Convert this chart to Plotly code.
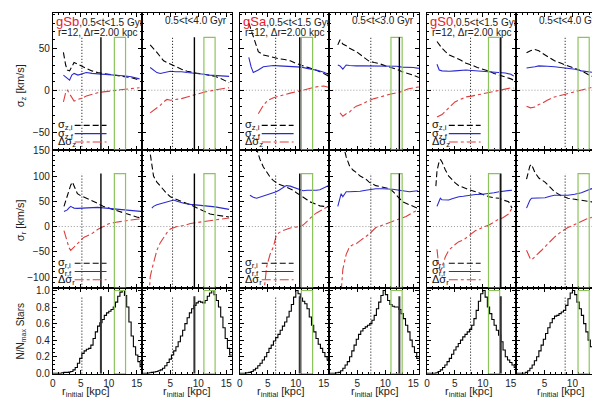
import numpy as np
import plotly.graph_objects as go

W, H = 600, 398

# ---------------- data ----------------
# row 1 : sigma_z  (r grid, initial, final, difference)
rz_sb1 = [1.9, 2.3, 2.6, 3.0, 3.4, 3.8, 4.5, 5.0, 6.0, 7.0, 8.0, 9.0, 10.0, 11.0, 12.0, 13.0, 14.0, 15.0, 15.5]
szi_sb1 = [45, 30, 24, 23, 28, 33, 31, 29, 26, 23, 21, 20, 19, 18, 17, 16, 15, 13, 11]
szf_sb1 = [18, 16, 14, 12, 18, 20, 18, 19, 21, 20, 19.5, 19, 19, 18.5, 17.5, 17, 16, 14.5, 13.5]
dsz_sb1 = [-14, -3, 0, -4, -9, -13, -11, -10, -7, -5, -3, -2, -1.5, -0.5, 0.5, 1, 2, 2.5, 3]

rz_sb2 = [1.4, 2.0, 2.6, 3.2, 3.8, 4.4, 5.0, 6.0, 7.0, 8.0, 9.0, 10.0, 11.0, 12.0, 13.0, 14.0, 15.0, 15.5]
szi_sb2 = [54, 50, 45, 40, 35, 33, 31, 28, 25, 22.5, 21, 20, 19, 18, 16.5, 14, 11, 9]
szf_sb2 = [27, 24, 21, 20, 21, 22, 22.5, 22, 22, 21, 20.5, 20, 19, 18, 17.5, 17, 17, 16.5]
dsz_sb2 = [-27, -24, -22, -18, -14, -11, -12, -11, -10, -8, -6, -4, -2.5, -1, 0.5, 1.5, 2.5, 3]

rz_sa1 = [1.6, 2.0, 2.4, 2.8, 3.3, 4.2, 5.0, 6.0, 7.0, 8.0, 9.0, 10.0, 11.0, 12.0, 13.0, 14.0, 15.0, 15.8]
szi_sa1 = [80, 72, 64, 55, 46, 42, 40.5, 39, 37.5, 36.5, 35, 32, 29.5, 27.5, 25.5, 23, 20, 17]
szf_sa1 = [39, 28, 21, 22, 24, 28, 29, 29.5, 29, 28.5, 28, 28, 27.5, 26, 25, 23.5, 21.5, 19]
dsz_sa1 = [None, None, None, None, -28, -18, -12, -9, -7, -5, -3.5, -2, -0.5, 1, 3, 4.5, 5, 3.5]

rz_sa2 = [1.5, 1.9, 2.4, 3.0, 3.6, 4.2, 4.8, 6.0, 7.0, 8.0, 9.0, 10.0, 11.0, 12.0, 13.0, 14.0, 15.0, 16.0]
szi_sa2 = [54, 60, 55, 53, 50, 48, 46, 40, 35, 33, 31.5, 29, 27, 25, 22, 20, 18, 15]
szf_sa2 = [30, 29, 25, 30, 29.5, 29, 29, 29, 29, 29, 29, 29, 29, 28.5, 27.5, 27.5, 27, 26]
dsz_sa2 = [None, -27, -31, -28, -26, -22, -19, -16, -12.5, -10, -8, -6, -4.5, -3, -1.5, 1.5, 3, 4]

rz_s01 = [1.8, 2.2, 2.7, 3.3, 4.0, 5.0, 6.0, 7.0, 8.0, 9.0, 10.0, 11.0, 12.0, 13.0, 14.0, 15.0, 15.5]
szi_s01 = [58, 54, 50, 46, 42, 39, 36, 32, 30, 27, 25, 23, 20, 18, 15.5, 13.5, 12]
szf_s01 = [31, 24, 23, 22.5, 22.5, 23, 23.5, 24, 23.5, 23, 22.5, 22.5, 22, 21, 20.5, 19, 17]
dsz_s01 = [-32, -31, -29, -25, -20, -14, -11, -8, -7, -5.5, -4, -2.5, -1, 0.5, 2, 2.7, 2.5]

rz_s02 = [1.8, 2.5, 3.3, 4.0, 4.5, 5.5, 6.8, 8.0, 9.2, 10.5, 11.6, 12.5, 13.1, 14.0, 15.2, 15.8]
szi_s02 = [44.5, 47, 48.5, 47, 44.5, 40, 35, 32, 29, 26, 23, 20, 17.5, 15.5, 12, 10]
szf_s02 = [26.5, 27, 28, 29, 29, 28.5, 28, 27, 26.5, 25, 23, 22, 22, 21, 20, 19.5]
dsz_s02 = [-19, -21, -20, -17, -16, -12, -8, -6, -4, -2, 0.5, 2, 3, 4.4, 5, 5]

# row 2 : sigma_r
rr_sb1 = [2.0, 2.6, 2.9, 3.2, 3.5, 3.8, 4.4, 5.0, 5.6, 6.2, 7.0, 8.0, 9.0, 10.0, 11.0, 12.0, 13.0, 14.0, 15.0, 15.7]
sri_sb1 = [40, 62, 75, 82, 88, 80, 65, 61, 58, 56, 52, 46, 40, 36.5, 33, 28, 25, 22, 19, 17]
srf_sb1 = [30, 33, 37, 40, 38, 36.5, 36, 36.5, 36.5, 36.5, 37.5, 38, 37, 36, 35, 34, 33, 32, 31, 30]
dsr_sb1 = [-8, -34, -42, -47, -44, -40, -34, -27, -21, -18, -14, -6, 0, 5.5, 8, 10, 11.5, 13, 14.5, 15]

rr_sb2 = [1.2, 1.4, 1.7, 2.0, 2.6, 3.2, 3.8, 4.4, 5.0, 5.6, 6.2, 7.4, 8.6, 9.8, 11.0, 12.1, 13.0, 14.0, 15.0, 15.5]
sri_sb2 = [160, 145, 120, 100, 88, 80, 72, 65, 59, 56, 53, 48, 43, 37, 31, 25, 23, 21, 20, 19]
srf_sb2 = [None, None, 36.5, 40, 43, 45, 46, 49, 51, 52.5, 50, 46, 44, 43, 41, 40, 39, 37, 35, 34]
dsr_sb2 = [-140, -100, -85, -72, -47, -32, -21, -12, -5, -2, 0, 2, 6, 8, 10, 11, 13, 14.5, 16, 17]

rr_sa1 = [1.8, 2.4, 3.0, 3.6, 4.2, 4.8, 5.4, 6.0, 6.5, 7.0, 7.7, 8.3, 9.0, 9.5, 10.1, 10.7, 11.3, 12.0, 12.5, 13.1, 13.7, 14.3, 15.0, 15.8]
sri_sa1 = [None, 175, 152, 133, 118, 107, 98, 91, 87, 84, 81, 78, 75, 72, 67, 63, 59, 53, 49, 46, 43, 41, 40, 39]
srf_sa1 = [62, 58, 56, 58, 60, 62, 64, 66, 69, 72, 76, 81, 80, 78, 75, 72, 71, 72, 72, 71, 72, 73, 76, 81]
dsr_sa1 = [None, None, None, None, -140, -79, -55, -40, -18, -12, -8, -5, -3, -2, -1, 0, 3, 10, 17, 22, 27, 31, 35, 40]

rr_sa2 = [1.5, 2.1, 2.4, 3.0, 3.6, 4.2, 4.8, 5.5, 6.5, 7.1, 8.3, 9.5, 10.7, 11.3, 11.9, 12.5, 13.1, 13.7, 14.3, 15.0, 15.8]
sri_sa2 = [None, None, 165, 138, 120, 112, 107, 100, 94, 88, 81, 78, 75, 70, 62, 56, 49, 46, 43, 40, 36]
srf_sa2 = [40, 65, 59, 69, 69, 69, 69, 70, 72, 73, 75, 75, 75, 74, 73, 72, 72, 70, 69, 70, 71]
dsr_sa2 = [None, -130, -85, -55, -40, -36, -34, -28, -20, -15, -2, 3, 8, 11, 13, 15, 17, 20, 24, 28, 33]

rr_s01 = [1.6, 1.8, 2.1, 2.4, 2.7, 3.3, 3.9, 4.5, 5.1, 5.7, 6.5, 7.5, 8.7, 9.9, 11.1, 12.0, 12.9, 13.5, 14.6, 15.2]
sri_s01 = [80, 110, 125, 133, 128, 112, 100, 92, 86, 81, 77, 73, 69, 64, 59, 57, 56, 53, 49, 36.5]
srf_s01 = [None, 40, 50, 56, 53, 52, 52.5, 55, 57, 59, 60, 62, 63.5, 64, 65, 67, 69, 70, 72, 72]
dsr_s01 = [None, -45, -75, -90, -80, -60, -47, -40, -35, -30, -27, -18, -8, -2, 3, 9, 15, 17, 25, 36.5]

rr_s02 = [1.8, 2.1, 2.4, 2.7, 3.3, 4.0, 4.5, 5.1, 6.0, 6.8, 8.0, 9.2, 10.4, 11.6, 12.5, 13.4, 14.0, 14.6, 14.9, 15.5]
sri_s02 = [94, 110, 120, 123, 107, 96, 92, 88, 78, 69, 61, 56, 54, 52.5, 51, 49, 45, 40, 36.5, None]
srf_s02 = [36.5, 46, 52, 56, 56, 56, 56, 57, 60, 62, 62, 62, 64, 67, 71, 75, 73, 70, 69, 69]
dsr_s02 = [-47, -55, -62, -66, -60, -52, -47, -40, -30, -21, -10, -2, 4, 11, 15, 18, 20.5, 25, 36.5, None]

# row 3 : N/Nmax histograms, 0.4 kpc bins from 0 to 16 kpc
hist_sb1 = [0, 0, 0, 0, 0.005, 0.01, 0.01, 0.015, 0.02, 0.04,
            0.07, 0.12, 0.18, 0.24, 0.27, 0.29, 0.3, 0.34, 0.42, 0.5,
            0.57, 0.61, 0.65, 0.7, 0.73, 0.75, 0.77, 0.8, 0.86, 0.93,
            0.98, 1.0, 0.94, 0.8, 0.62, 0.45, 0.32, 0.22, 0.14, 0.08]
hist_sb2 = [0, 0, 0, 0.005, 0.01, 0.015, 0.02, 0.03, 0.04, 0.06,
            0.09, 0.13, 0.17, 0.22, 0.27, 0.32, 0.38, 0.45, 0.52, 0.6,
            0.67, 0.73, 0.78, 0.82, 0.85, 0.87, 0.86, 0.85, 0.88, 0.93,
            0.97, 1.0, 0.95, 0.88, 0.8, 0.68, 0.55, 0.42, 0.3, 0.22]
hist_sa1 = [0, 0, 0, 0.005, 0.01, 0.02, 0.04, 0.06, 0.09, 0.12,
            0.16, 0.2, 0.25, 0.3, 0.34, 0.39, 0.43, 0.47, 0.52, 0.57,
            0.62, 0.68, 0.75, 0.83, 0.92, 1.0, 0.96, 0.91, 0.87, 0.84,
            0.78, 0.68, 0.58, 0.5, 0.42, 0.35, 0.3, 0.25, 0.2, 0.16]
hist_sa2 = [0, 0, 0, 0.005, 0.01, 0.03, 0.06, 0.1, 0.14, 0.2,
            0.27, 0.34, 0.41, 0.47, 0.51, 0.54, 0.56, 0.58, 0.6, 0.64,
            0.7, 0.78, 0.86, 0.94, 1.0, 0.95, 0.88, 0.83, 0.81, 0.8,
            0.8, 0.77, 0.72, 0.66, 0.58, 0.5, 0.4, 0.32, 0.25, 0.18]
hist_s01 = [0, 0, 0, 0, 0.005, 0.02, 0.04, 0.07, 0.1, 0.14,
            0.18, 0.23, 0.28, 0.32, 0.36, 0.4, 0.44, 0.47, 0.5, 0.53,
            0.58, 0.66, 0.76, 0.87, 0.96, 1.0, 0.92, 0.8, 0.72, 0.65,
            0.58, 0.52, 0.46, 0.38, 0.28, 0.2, 0.16, 0.13, 0.1, 0.07]
hist_s02 = [0, 0, 0, 0, 0.01, 0.03, 0.06, 0.1, 0.15, 0.2,
            0.27, 0.34, 0.41, 0.48, 0.55, 0.61, 0.66, 0.69, 0.7, 0.72,
            0.74, 0.76, 0.82, 0.9, 0.97, 1.0, 0.95, 0.86, 0.78, 0.7,
            0.6, 0.5, 0.4, 0.32, 0.24, 0.18, 0.14, 0.11, 0.09, 0.07]
bin_width = 0.4

# reference radii per panel
r_dotted = [5.2, 5.4, 6.4, 7.4, 7.8, 8.7]
r_solid = [8.6, 9.3, 10.7, 12.5, 13.2, 14.6]
r_window = [11, 13]

galaxies = ["gSb", None, "gSa", None, "gS0", None]
t_ranges = ["0.5<t<1.5 Gyr", "0.5<t<4.0 Gyr", "0.5<t<1.5 Gyr",
            "0.5<t<3.0 Gyr", "0.5<t<1.5 Gyr", "0.5<t<4.0 Gyr"]

row1 = [(rz_sb1, szi_sb1, szf_sb1, dsz_sb1), (rz_sb2, szi_sb2, szf_sb2, dsz_sb2),
        (rz_sa1, szi_sa1, szf_sa1, dsz_sa1), (rz_sa2, szi_sa2, szf_sa2, dsz_sa2),
        (rz_s01, szi_s01, szf_s01, dsz_s01), (rz_s02, szi_s02, szf_s02, dsz_s02)]
row2 = [(rr_sb1, sri_sb1, srf_sb1, dsr_sb1), (rr_sb2, sri_sb2, srf_sb2, dsr_sb2),
        (rr_sa1, sri_sa1, srf_sa1, dsr_sa1), (rr_sa2, sri_sa2, srf_sa2, dsr_sa2),
        (rr_s01, sri_s01, srf_s01, dsr_s01), (rr_s02, sri_s02, srf_s02, dsr_s02)]
hists = [hist_sb1, hist_sb2, hist_sa1, hist_sa2, hist_s01, hist_s02]

# ---------------- layout ----------------
cols_px = [(42, 132), (132, 222), (230, 320), (320, 410), (418, 508), (508, 598)]
rows_px = [(1, 141), (141, 282), (282, 370)]
yranges = [[-71, 92], [-121, 152], [-0.005, 1.035]]
ytickvals = [[-50, 0, 50], [-100, -50, 0, 50, 100, 150], [0, 0.2, 0.4, 0.6, 0.8, 1.0]]
yminor = [10, 10, 0.05]
line_top = [63, 105, 0.93]
win_top = [63, 105, 1.0]

BLACK = "#000000"
BLUE = "#2a2ad0"
RED = "#e03c3c"
GREEN = "#8cc45c"
FONT = "Liberation Sans, Arial, sans-serif"


def px(x):
    return x / W


def py(y):
    return 1 - y / H


fig = go.Figure()
shapes = []
annotations = []
tick_font = dict(family=FONT, size=10, color="#222")

for i in range(3):
    for j in range(6):
        k = i * 6 + j + 1
        sfx = "" if k == 1 else str(k)
        xt = [0, 5, 10, 15] if j % 2 == 0 else [5, 10, 15]
        fig.layout["xaxis" + sfx] = dict(
            domain=[px(cols_px[j][0]), px(cols_px[j][1])], range=[0, 16],
            anchor="y" + sfx, tickmode="array", tickvals=xt,
            showticklabels=(i == 2), ticks="inside", ticklen=4, tickcolor="black",
            showline=True, linecolor="black", linewidth=1, mirror="ticks",
            showgrid=False, zeroline=False, tickfont=tick_font,
            minor=dict(tickmode="linear", tick0=0, dtick=1, ticks="inside",
                       ticklen=2, tickcolor="black", showgrid=False))
        fig.layout["yaxis" + sfx] = dict(
            domain=[py(rows_px[i][1]), py(rows_px[i][0])], range=yranges[i],
            anchor="x" + sfx, tickmode="array", tickvals=ytickvals[i],
            tickformat=".1f" if i == 2 else "d",
            showticklabels=(j == 0), ticks="inside", ticklen=4, tickcolor="black",
            showline=True, linecolor="black", linewidth=1, mirror="ticks",
            showgrid=False, zeroline=False, tickfont=tick_font,
            minor=dict(tickmode="linear", tick0=0, dtick=yminor[i], ticks="inside",
                       ticklen=2, tickcolor="black", showgrid=False))

        xr, yr = "x" + sfx, "y" + sfx
        if i < 2:
            r, s_i, s_f, ds = (row1 if i == 0 else row2)[j]
            fig.add_trace(go.Scatter(x=r, y=s_i, mode="lines", xaxis=xr, yaxis=yr,
                                     line=dict(color=BLACK, width=1.1, dash="6px,3px")))
            fig.add_trace(go.Scatter(x=r, y=s_f, mode="lines", xaxis=xr, yaxis=yr,
                                     line=dict(color=BLUE, width=1.1)))
            fig.add_trace(go.Scatter(x=r, y=ds, mode="lines", xaxis=xr, yaxis=yr,
                                     line=dict(color=RED, width=1.1, dash="dashdot")))
            shapes.append(dict(type="line", xref=xr + " domain", yref=yr,
                               x0=0, x1=1, y0=0, y1=0, layer="below",
                               line=dict(color="#999", width=1, dash="1px,2px")))
        else:
            h = hists[j]
            edges = np.arange(len(h) + 1) * bin_width
            fig.add_trace(go.Scatter(x=edges, y=list(h) + [h[-1]], mode="lines",
                                     line_shape="hv", xaxis=xr, yaxis=yr,
                                     line=dict(color=BLACK, width=1.1)))

        y0 = yranges[i][0]
        shapes.append(dict(type="rect", xref=xr, yref=yr, x0=r_window[0], x1=r_window[1],
                           y0=y0, y1=win_top[i], line=dict(color=GREEN, width=1.2)))
        shapes.append(dict(type="line", xref=xr, yref=yr, x0=r_dotted[j], x1=r_dotted[j],
                           y0=y0, y1=line_top[i],
                           line=dict(color=BLACK, width=1, dash="1px,2px")))
        shapes.append(dict(type="line", xref=xr, yref=yr, x0=r_solid[j], x1=r_solid[j],
                           y0=y0, y1=line_top[i],
                           line=dict(color="#333" if i == 2 else BLACK, width=2 if i == 2 else 1.4)))

# panel titles
for j in range(6):
    left, right = cols_px[j]
    trange = t_ranges[j].replace("<", "&lt;")
    if galaxies[j]:
        annotations.append(dict(
            x=px(left + 1), y=py(10), xref="paper", yref="paper", xanchor="left", yanchor="middle",
            showarrow=False, font=dict(family=FONT, size=10, color="#222"),
            text=f'<span style="color:#e8202a;font-size:13px">{galaxies[j]}</span>,{trange}'))
        annotations.append(dict(
            x=px(right - 2), y=py(20.5), xref="paper", yref="paper", xanchor="right", yanchor="middle",
            showarrow=False, font=dict(family=FONT, size=10, color="#222"),
            text="r=12, Δr=2.00 kpc"))
    else:
        annotations.append(dict(
            x=px((left + right) / 2 + 9), y=py(9), xref="paper", yref="paper", xanchor="center",
            yanchor="middle", showarrow=False, font=dict(family=FONT, size=10, color="#222"),
            text=trange))

# in-panel legends
leg_labels = [["σ<sub>z,i</sub>", "σ<sub>z,f</sub>", "Δσ<sub>z</sub>"],
              ["σ<sub>r,i</sub>", "σ<sub>r,f</sub>", "Δσ<sub>r</sub>"]]
leg_styles = [dict(color=BLACK, width=1.1, dash="6px,3px"),
              dict(color=BLUE, width=1.2),
              dict(color=RED, width=1.1, dash="dashdot")]
for i in range(2):
    bottom = rows_px[i][1]
    for j in (0, 2, 4):
        left = cols_px[j][0]
        for n, off in enumerate([25, 16.5, 8]):
            yy = bottom - off
            annotations.append(dict(
                x=px(left + 3), y=py(yy), xref="paper", yref="paper", xanchor="left",
                yanchor="middle", showarrow=False, text=leg_labels[i][n],
                font=dict(family=FONT, size=11, color="#111")))
            shapes.append(dict(type="line", xref="paper", yref="paper",
                               x0=px(left + 22), x1=px(left + 54), y0=py(yy), y1=py(yy),
                               line=leg_styles[n]))

# axis titles
x_title_px = [75, 177, 271, 366, 460, 553]
for j in range(6):
    annotations.append(dict(
        x=px(x_title_px[j]), y=py(389), xref="paper", yref="paper", xanchor="center",
        yanchor="middle", showarrow=False, text="r<sub>initial</sub> [kpc]",
        font=dict(family=FONT, size=11, color="#222")))
for text, yc, size in [("σ<sub>z</sub> [km/s]", 75, 11), ("σ<sub>r</sub> [km/s]", 213, 11),
                       ("N/N<sub>max</sub> Stars", 326, 10)]:
    annotations.append(dict(
        x=px(10), y=py(yc), xref="paper", yref="paper", xanchor="center", yanchor="middle",
        textangle=-90, showarrow=False, text=text, font=dict(family=FONT, size=size, color="#222")))

fig.update_layout(
    width=W, height=H, margin=dict(l=0, r=0, t=0, b=0),
    plot_bgcolor="white", paper_bgcolor="white", showlegend=False,
    shapes=shapes, annotations=annotations)

fig.write_html("out.html")
